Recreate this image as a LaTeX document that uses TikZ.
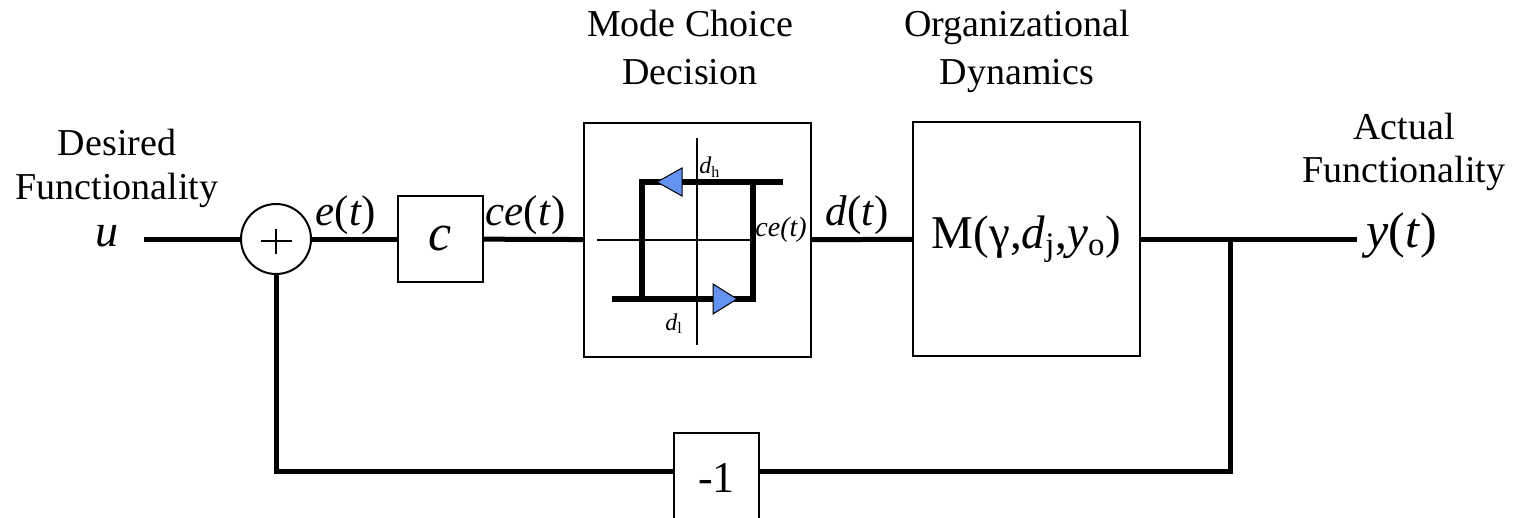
\documentclass[tikz,border=0pt]{standalone}
\usepackage{fontspec}
\setmainfont{Liberation Serif}
\usetikzlibrary{positioning}
\definecolor{hystblue}{RGB}{99,146,240}

\begin{document}
\begin{tikzpicture}[
    x=0.5pt, y=-0.5pt,
    block/.style={rectangle, draw=black, line width=1pt, fill=white, inner sep=0pt},
    sumnode/.style={circle, draw=black, line width=1pt, minimum size=35pt, inner sep=0pt},
    wire/.style={line width=2.5pt},
    axis/.style={line width=0.7pt},
    loopline/.style={line width=2.6pt, line join=miter},
    tip/.style={fill=hystblue, draw=black, line width=0.5pt},
    caption/.style={align=center, font=\fontsize{19}{24}\selectfont, inner sep=0pt},
    sidecaption/.style={align=center, font=\fontsize{19}{21.5}\selectfont, inner sep=0pt},
    signal/.style={font=\fontsize{21.5}{24}\selectfont, inner sep=1pt}
]
\useasboundingbox (0,0) rectangle (1518,518);

% captions (base = last line)
\node[caption, anchor=base] (modecap) at (690,85) {Mode Choice\\Decision};
\node[caption, anchor=base] (orgcap) at (1017,85) {Organizational\\Dynamics};
\node[sidecaption, anchor=base] (desired) at (117,199) {Desired\\Functionality};
\node[sidecaption, anchor=base] (actual) at (1404,183) {Actual\\Functionality};

% blocks
\node[signal, anchor=base, font=\fontsize{23}{24}\selectfont] (u) at (107,246) {\textit{u}};
\coordinate (uin) at (144,239);
\node[sumnode] (sum) at (276,239) {};
\draw[line width=0.8pt] ([xshift=-7.75pt,yshift=-1pt]sum.center) -- ([xshift=7.75pt,yshift=-1pt]sum.center)
    ([yshift=5pt]sum.center) -- ([yshift=-7.5pt]sum.center);
\node[block, minimum width=42.5pt, minimum height=42.5pt, font=\fontsize{26}{26}\selectfont\itshape] (cbox) at (440.5,239) {c};
\node[block, minimum width=113.5pt, minimum height=117pt] (mode) at (697.5,240) {};
\node[block, minimum width=113.5pt, minimum height=117pt, font=\fontsize{23.5}{26}\selectfont] (mbox) at (1026.5,239)
    {M(γ,\textit{d}\textsubscript{j},\textit{y}\textsubscript{o})};
\node[block, anchor=north, minimum width=42.5pt, minimum height=50pt, text depth=5pt, font=\fontsize{22}{22}\selectfont] (neg) at (716.5,432) {-1};
\node[signal, anchor=base west, inner sep=0pt, font=\fontsize{25}{26}\selectfont] (yt) at (1366,248) {\textit{y}(\textit{t})};
\coordinate (yout) at (1357,239);
\coordinate (branch) at (1230,239);
\coordinate (fbr) at (1230,471);
\coordinate (fbl) at (276,471);

% hysteresis inside the mode block
\draw[axis] (697,138) -- (697,345);
\draw[axis] (597,240) -- (755,240);
\draw[loopline] (612,299) -- (753,299) -- (753,182);
\draw[loopline] (783,182) -- (642,182) -- (642,299);
\filldraw[tip] (657,182) -- (682,168) -- (682,196) -- cycle;
\filldraw[tip] (737,299) -- (713,284) -- (713,314) -- cycle;
\node[anchor=base west, inner sep=0pt, font=\fontsize{12}{12}\selectfont] (dh) at (699,174) {\textit{d}\textsubscript{h}};
\node[anchor=base west, inner sep=0pt, font=\fontsize{12}{12}\selectfont] (dl) at (665,330) {\textit{d}\textsubscript{l}};
\node[anchor=base west, inner sep=0pt, font=\fontsize{14}{14}\selectfont\itshape] (cet) at (755,236) {ce(t)};

% connectors
\draw[wire] (uin) -- (sum);
\draw[wire] (sum) -- node[signal, above, pos=0.4] {\textit{e}(\textit{t})} (cbox);
\draw[wire] (cbox) -- node[signal, above, pos=0.42] {\textit{ce}(\textit{t})} (mode);
\draw[wire] (mode) -- node[signal, above, pos=0.45] {\textit{d}(\textit{t})} (mbox);
\draw[wire] (mbox) -- (yout);
\draw[wire] (branch) -- (fbr) -- (neg.east |- fbr);
\draw[wire] (neg.west |- fbl) -- (fbl) -- (sum);

\end{tikzpicture}
\end{document}
